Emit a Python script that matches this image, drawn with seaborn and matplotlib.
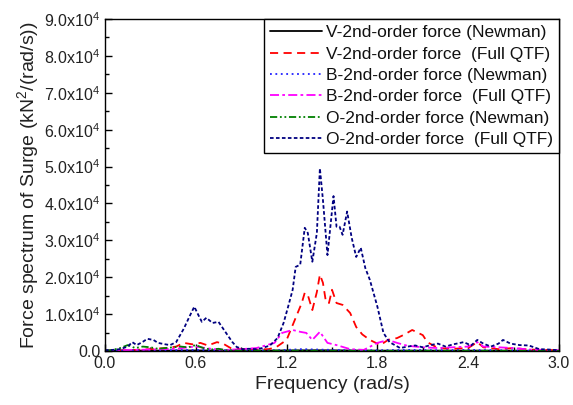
import numpy as np
import pandas as pd
import matplotlib
matplotlib.use("Agg")
import matplotlib.pyplot as plt
import seaborn as sns
from matplotlib.ticker import MultipleLocator

# ---------------- data (values in units of 1e4 kN^2/(rad/s)) ----------------
v_newman_f = [0.0, 0.2, 0.4, 0.6, 0.8, 1.0, 1.2, 1.4, 1.6, 1.8, 2.0, 2.2, 2.4, 2.6, 2.8, 3.0]
v_newman_v = [0.005, 0.01, 0.01, 0.015, 0.01, 0.01, 0.015, 0.02, 0.015, 0.01, 0.01, 0.01, 0.01, 0.01, 0.005, 0.005]

v_full_f = [0.0, 0.1, 0.2, 0.3, 0.4, 0.47, 0.52, 0.58, 0.63, 0.68, 0.74, 0.78, 0.83, 0.9, 1.0,
            1.08, 1.13, 1.20, 1.26, 1.30, 1.32, 1.34, 1.37, 1.40, 1.42, 1.44, 1.46, 1.48, 1.50,
            1.53, 1.57, 1.62, 1.66, 1.70, 1.75, 1.82, 1.87, 1.93, 1.98, 2.03, 2.10, 2.13, 2.20,
            2.30, 2.40, 2.46, 2.50, 2.60, 2.70, 2.80, 2.90, 3.0]
v_full_v = [0.01, 0.02, 0.03, 0.05, 0.08, 0.12, 0.22, 0.18, 0.22, 0.15, 0.24, 0.2, 0.08, 0.05, 0.04,
            0.05, 0.1, 0.3, 0.9, 1.3, 1.58, 1.52, 1.11, 1.6, 2.07, 1.85, 1.33, 1.3, 1.66,
            1.3, 1.25, 1.03, 0.65, 0.45, 0.3, 0.16, 0.3, 0.35, 0.45, 0.57, 0.43, 0.24, 0.08,
            0.06, 0.08, 0.24, 0.1, 0.05, 0.08, 0.04, 0.03, 0.02]

b_newman_f = [0.0, 0.2, 0.4, 0.6, 0.8, 1.0, 1.2, 1.3, 1.4, 1.5, 1.6, 1.8, 2.0, 2.2, 2.4, 2.6, 2.8, 3.0]
b_newman_v = [0.005, 0.02, 0.02, 0.03, 0.02, 0.01, 0.03, 0.05, 0.04, 0.03, 0.02, 0.02, 0.03, 0.02, 0.03, 0.02, 0.01, 0.01]

b_full_f = [0.0, 0.1, 0.2, 0.3, 0.4, 0.47, 0.55, 0.6, 0.7, 0.8, 0.9, 1.0, 1.07, 1.12, 1.17, 1.24,
            1.29, 1.33, 1.37, 1.42, 1.47, 1.53, 1.62, 1.71, 1.80, 1.87, 1.93, 2.0, 2.1, 2.2, 2.3,
            2.4, 2.46, 2.5, 2.6, 2.7, 2.8, 2.9, 3.0]
b_full_v = [0.01, 0.02, 0.03, 0.04, 0.05, 0.06, 0.1, 0.12, 0.06, 0.03, 0.05, 0.08, 0.16, 0.22, 0.49, 0.57,
            0.52, 0.49, 0.3, 0.52, 0.22, 0.16, 0.05, 0.03, 0.22, 0.3, 0.22, 0.14, 0.1, 0.08, 0.1,
            0.12, 0.24, 0.12, 0.1, 0.08, 0.04, 0.03, 0.02]

o_newman_f = [0.0, 0.05, 0.1, 0.15, 0.2, 0.25, 0.3, 0.35, 0.4, 0.45, 0.5, 0.55, 0.6, 0.65, 0.7, 0.75,
              0.8, 0.9, 1.0, 1.2, 1.5, 2.0, 2.5, 3.0]
o_newman_v = [0.01, 0.03, 0.08, 0.16, 0.08, 0.12, 0.1, 0.06, 0.08, 0.1, 0.12, 0.1, 0.16, 0.08, 0.04, 0.06,
              0.02, 0.01, 0.01, 0.01, 0.005, 0.005, 0.005, 0.005]

o_full_f = [0.0, 0.05, 0.1, 0.15, 0.18, 0.21, 0.25, 0.28, 0.32, 0.35, 0.4, 0.43, 0.47, 0.52, 0.56, 0.59,
            0.62, 0.64, 0.67, 0.71, 0.75, 0.8, 0.84, 0.87, 0.91, 0.95, 1.0, 1.04, 1.09, 1.14, 1.18,
            1.21, 1.24, 1.26, 1.29, 1.32, 1.34, 1.37, 1.40, 1.42, 1.44, 1.47, 1.51, 1.53, 1.55,
            1.57, 1.60, 1.63, 1.66, 1.69, 1.72, 1.75, 1.80, 1.84, 1.88, 1.95, 2.0, 2.05, 2.1,
            2.15, 2.2, 2.25, 2.3, 2.37, 2.42, 2.46, 2.5, 2.55, 2.6, 2.63, 2.68, 2.74, 2.8, 2.87,
            2.93, 3.0]
o_full_v = [0.02, 0.03, 0.05, 0.12, 0.24, 0.16, 0.25, 0.33, 0.3, 0.22, 0.18, 0.16, 0.24, 0.6, 0.95, 1.2,
            0.95, 0.79, 0.9, 0.76, 0.79, 0.49, 0.25, 0.11, 0.05, 0.06, 0.05, 0.08, 0.15, 0.35, 0.76,
            1.2, 1.66, 2.28, 2.34, 3.34, 3.2, 2.42, 3.2, 4.95, 4.1, 2.6, 4.2, 3.37, 3.37,
            3.15, 3.78, 3.07, 2.55, 2.8, 2.25, 1.93, 1.2, 0.49, 0.24, 0.08, 0.12, 0.15, 0.1,
            0.16, 0.2, 0.12, 0.18, 0.24, 0.15, 0.3, 0.2, 0.12, 0.2, 0.3, 0.2, 0.16, 0.15, 0.05,
            0.04, 0.02]

labels = ["V-2nd-order force (Newman)", "V-2nd-order force  (Full QTF)",
          "B-2nd-order force (Newman)", "B-2nd-order force  (Full QTF)",
          "O-2nd-order force (Newman)", "O-2nd-order force  (Full QTF)"]

y_tick_vals = [0, 1, 2, 3, 4, 5, 6, 7, 8, 9]
y_tick_labels = ["0.0"] + [f"{v:.1f}x10$^{{4}}$" for v in y_tick_vals[1:]]
x_tick_vals = [0.0, 0.6, 1.2, 1.8, 2.4, 3.0]
x_tick_labels = ["0.0", "0.6", "1.2", "1.8", "2.4", "3.0"]

# ---------------- plot ----------------
sns.set_theme(style="white")
plt.rcParams['font.family'] = ['Liberation Sans', 'DejaVu Sans']
plt.rcParams['mathtext.fontset'] = 'custom'
plt.rcParams['mathtext.rm'] = 'Liberation Sans'
plt.rcParams['mathtext.it'] = 'Liberation Sans'

fig, ax = plt.subplots(figsize=(5.73, 4.05), dpi=100)
fig.subplots_adjust(left=105/573, right=559/573, top=1-19/405, bottom=1-351/405)

series = [
    (v_newman_f, v_newman_v, "black", "-"),
    (v_full_f, v_full_v, "#ff0000", (0, (4.5, 3))),
    (b_newman_f, b_newman_v, "#2020ff", (0, (1, 2))),
    (b_full_f, b_full_v, "#ff00ff", (0, (5, 1.8, 1.5, 1.8))),
    (o_newman_f, o_newman_v, "#008000", (0, (4, 1.5, 1, 1.5, 1, 1.5))),
    (o_full_f, o_full_v, "#000080", (0, (2, 1.3))),
]

for (f, v, c, ls), lab in zip(series, labels):
    df = pd.DataFrame({"f": f, "v": np.array(v) * 1e4})
    sns.lineplot(data=df, x="f", y="v", ax=ax, color=c, linestyle=ls,
                 linewidth=1.3, label=lab, sort=False)

ax.set_xlim(0, 3.0)
ax.set_ylim(0, 9e4)
ax.set_xticks(x_tick_vals, x_tick_labels)
ax.set_yticks([v * 1e4 for v in y_tick_vals], y_tick_labels)
ax.xaxis.set_minor_locator(MultipleLocator(0.3))
ax.yaxis.set_minor_locator(MultipleLocator(0.5e4))
ax.tick_params(axis="both", which="both", direction="in", labelsize=11.5,
               colors="black", bottom=True, left=True, top=False, right=False)
ax.tick_params(which="major", length=5, width=1)
ax.tick_params(which="minor", length=3, width=1)
for lab in ax.get_xticklabels() + ax.get_yticklabels():
    lab.set_color("#222222")

for s in ax.spines.values():
    s.set_color("black")
    s.set_linewidth(1.0)

ax.set_xlabel("Frequency (rad/s)", fontsize=14, color="#222222", labelpad=4)
ax.set_ylabel("Force spectrum of Surge (kN$^2$/(rad/s))", fontsize=14, color="#222222", labelpad=2)

leg = ax.legend(loc="upper right", bbox_to_anchor=(1.0, 1.0), borderaxespad=0,
                frameon=True, fancybox=False, edgecolor="black", framealpha=1,
                fontsize=12.5, handlelength=3.0, handletextpad=0.2, labelspacing=0.36,
                borderpad=0.35)
leg.get_frame().set_linewidth(1.0)
for t in leg.get_texts():
    t.set_color("#111111")

fig.savefig("out.png", dpi=100)
